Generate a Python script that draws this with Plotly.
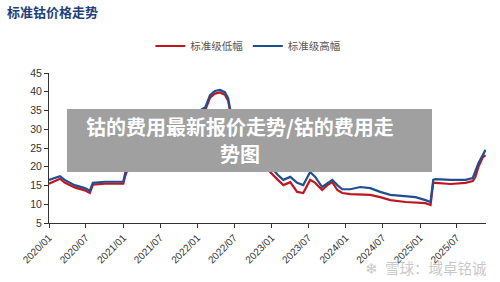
import plotly.graph_objects as go

# ---- data ----
dates_high = [
    "2020-01-01", "2020-02-24", "2020-03-18", "2020-05-06", "2020-06-25", "2020-07-20",
    "2020-08-04", "2020-10-03", "2021-01-01", "2021-01-10", "2021-02-04", "2021-02-28",
    "2021-03-22", "2021-04-18", "2021-05-12", "2021-06-06", "2021-07-01", "2021-07-25",
    "2021-08-19", "2021-09-12", "2021-10-07", "2021-11-01", "2021-11-27", "2022-01-15",
    "2022-02-09", "2022-03-04", "2022-03-28", "2022-04-22", "2022-05-16", "2022-06-01",
    "2022-06-10", "2022-06-25", "2022-07-19", "2022-09-03", "2022-10-12", "2022-11-21",
    "2022-12-25", "2023-02-01", "2023-02-28", "2023-04-03", "2023-05-07", "2023-06-06",
    "2023-07-10", "2023-08-04", "2023-09-07", "2023-10-03", "2023-10-27", "2023-11-21",
    "2023-12-15", "2024-01-24", "2024-03-13", "2024-05-01", "2024-06-19", "2024-08-08",
    "2024-10-22", "2024-12-10", "2025-01-28", "2025-02-22", "2025-03-07", "2025-03-18",
    "2025-06-01", "2025-08-13", "2025-09-18", "2025-10-01", "2025-10-16", "2025-11-06",
    "2025-11-20",
]
high_values = [
    16.5, 17.5, 16.5, 15.1, 14.3, 13.6,
    15.7, 16.0, 16.0, 18.3, 21.8, 25.8,
    23.1, 21.8, 20.5, 20.5, 24.5, 25.3,
    24.5, 25.0, 27.1, 29.3, 34.3, 35.1,
    35.9, 39.1, 40.2, 40.5, 39.9, 38.3,
    35.7, 32.5, 29.8, 26.6, 24.5, 21.8,
    20.2, 17.8, 16.5, 17.3, 15.7, 15.1,
    18.6, 17.3, 14.6, 15.7, 16.5, 15.1,
    14.0, 14.0, 14.6, 14.3, 13.3, 12.5,
    12.2, 11.9, 11.1, 10.6, 16.5, 16.7,
    16.5, 16.5, 17.0, 19.1, 21.0, 23.1,
    24.5,
]
dates_low = dates_high
low_values = [
    15.5, 16.8, 15.8, 14.5, 13.7, 13.0,
    15.2, 15.5, 15.5, 17.5, 21.0, 25.0,
    22.3, 21.0, 19.8, 19.8, 23.8, 24.6,
    23.8, 24.3, 26.4, 28.6, 33.6, 34.4,
    35.2, 38.4, 39.5, 39.8, 39.2, 37.6,
    35.0, 31.8, 29.1, 25.9, 23.8, 21.0,
    18.6, 16.5, 15.1, 15.9, 13.3, 13.0,
    16.5, 15.7, 13.8, 15.1, 15.9, 13.8,
    13.0, 12.7, 12.7, 12.5, 11.9, 11.1,
    10.6, 10.4, 10.3, 9.8, 15.7, 15.7,
    15.4, 15.7, 16.2, 17.3, 20.0, 22.5,
    23.1,
]
x_tickvals = ["2020-01-01", "2020-07-01", "2021-01-01", "2021-07-01", "2022-01-01",
              "2022-07-01", "2023-01-01", "2023-07-01", "2024-01-01", "2024-07-01",
              "2025-01-01", "2025-07-01"]
x_ticktext = ["2020/01", "2020/07", "2021/01", "2021/07", "2022/01", "2022/07",
              "2023/01", "2023/07", "2024/01", "2024/07", "2025/01", "2025/07"]
y_tickvals = [5, 10, 15, 20, 25, 30, 35, 40, 45]

title_text = "标准钴价格走势"
name_low = "标准级低幅"
name_high = "标准级高幅"
overlay_line1 = "钴的费用最新报价走势/钴的费用走"
overlay_line2 = "势图"
watermark_text = "雪球：域卓铭诚"

CJK = "Noto Sans CJK SC"
LAT = "Liberation Sans, Arial, sans-serif"

fig = go.Figure()
fig.add_trace(go.Scatter(x=dates_low, y=low_values, mode="lines", name=name_low,
                         line=dict(color="#c0161f", width=2.2)))
fig.add_trace(go.Scatter(x=dates_high, y=high_values, mode="lines", name=name_high,
                         line=dict(color="#1f4f8e", width=2.2)))

fig.update_layout(
    width=500, height=282,
    margin=dict(l=49, r=14, t=73, b=59),
    paper_bgcolor="white", plot_bgcolor="white",
    showlegend=True,
    title=dict(text="<b>" + title_text + "</b>", x=0.014, xanchor="left",
               y=0.957, yanchor="middle",
               font=dict(family=CJK, size=13, color="#1f3f7a")),
    legend=dict(orientation="h", x=0.455, xanchor="center", y=1.18, yanchor="middle",
                font=dict(family=CJK, size=10.5, color="#555555"),
                bgcolor="rgba(0,0,0,0)", itemwidth=30, tracegroupgap=0),
    xaxis=dict(type="date", range=["2020-01-01", "2025-11-22"],
               tickvals=x_tickvals, ticktext=x_ticktext, tickangle=-45,
               showgrid=False, zeroline=False,
               showline=True, linecolor="#333333", linewidth=1,
               ticks="outside", ticklen=4, tickcolor="#333333",
               tickfont=dict(family=LAT, size=10, color="#333333")),
    yaxis=dict(range=[5, 45], tickvals=y_tickvals,
               showgrid=False, zeroline=False,
               showline=True, linecolor="#333333", linewidth=1,
               ticks="outside", ticklen=4, tickcolor="#333333",
               tickfont=dict(family=LAT, size=10.5, color="#333333")),
)

# grey overlay box with caption
fig.add_shape(type="rect", xref="paper", yref="paper",
              x0=(67 - 49) / 437, x1=(432 - 49) / 437,
              y0=(223 - 172) / 150, y1=(223 - 109) / 150,
              fillcolor="#a0a0a0", line=dict(width=0), layer="above")
fig.add_annotation(xref="paper", yref="paper", x=(240 - 49) / 437, y=(223 - 126) / 150,
                   text="<b>" + overlay_line1 + "</b>", showarrow=False,
                   xanchor="center", yanchor="middle", borderpad=0,
                   font=dict(family=CJK, size=20, color="white"))
fig.add_annotation(xref="paper", yref="paper", x=(240 - 49) / 437, y=(223 - 153) / 150,
                   text="<b>" + overlay_line2 + "</b>", showarrow=False,
                   xanchor="center", yanchor="middle", borderpad=0,
                   font=dict(family=CJK, size=20, color="white"))

# watermark
fig.add_annotation(xref="paper", yref="paper", x=(371 - 49) / 437, y=(223 - 267) / 150,
                   text="❄", showarrow=False, xanchor="center", yanchor="middle",
                   font=dict(family=CJK, size=15, color="rgba(190,190,190,0.85)"))
fig.add_annotation(xref="paper", yref="paper", x=(383 - 49) / 437, y=(223 - 267) / 150,
                   text=watermark_text, showarrow=False, xanchor="left", yanchor="middle",
                   font=dict(family=CJK, size=14.5, color="rgba(190,190,190,0.85)"))

fig.write_html("out.html")
